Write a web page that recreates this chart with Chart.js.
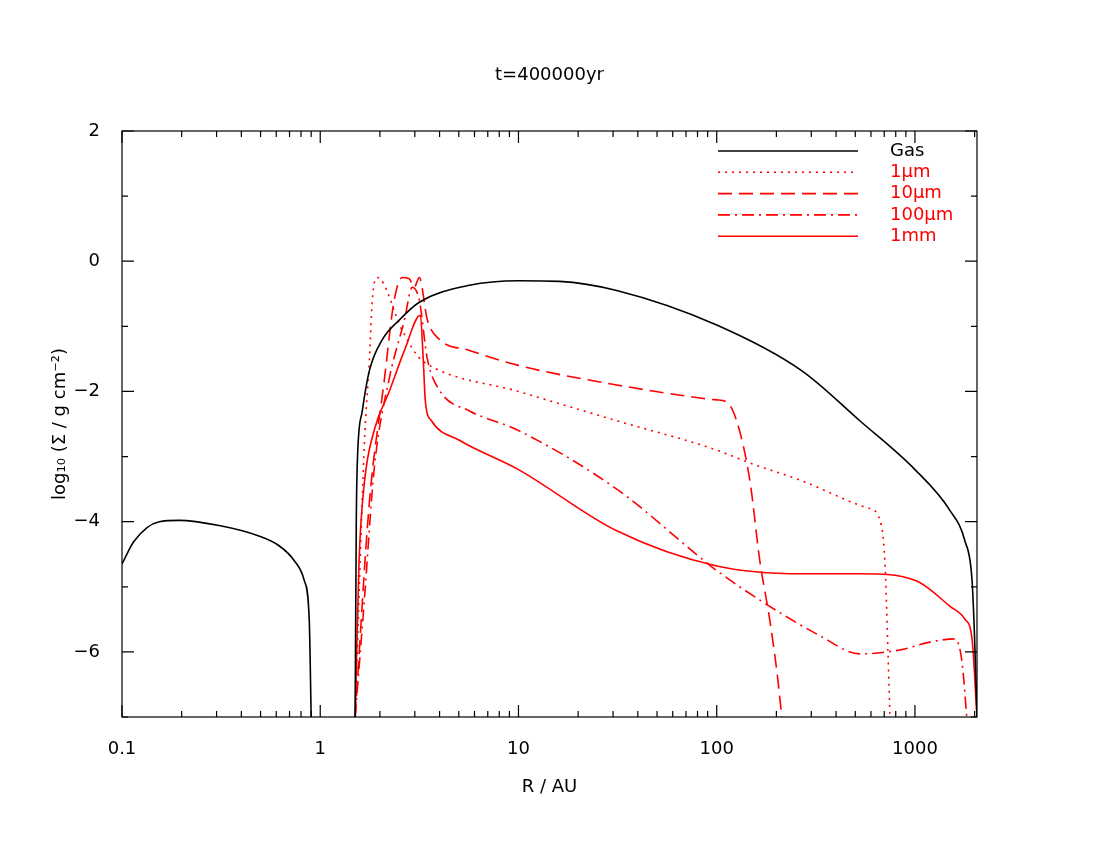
<!DOCTYPE html>
<html><head><meta charset="utf-8">
<script src="https://cdn.jsdelivr.net/npm/chart.js@4"></script>
<style>html,body{margin:0;padding:0;background:#fff}#c{display:block}</style>
</head><body>
<canvas id="c" width="1100" height="850"></canvas>
<script>
const titleText = "t=400000yr";
const xTickLabels = [0.1, 1, 10, 100, 1000];
const yTickLabels = [2, 0, -2, -4, -6];
const seriesNames = ["Gas", "1\u03bcm", "10\u03bcm", "100\u03bcm", "1mm"];

const gasInnerR = [0.1, 0.115, 0.154, 0.194, 0.309, 0.49, 0.62, 0.74, 0.83, 0.88, 0.9];
const gasInnerS = [-4.65, -4.3, -4.0, -3.98, -4.06, -4.22, -4.37, -4.6, -4.9, -5.5, -7];
const gasR = [1.5, 1.52, 1.54, 1.63, 1.77, 2.06, 2.51, 3.16, 5.66, 10, 16.1, 31.3, 100, 268, 527, 1000, 1503, 1789, 1941, 2000, 2056];
const gasS = [-7, -4, -3.05, -2.3, -1.68, -1.2, -0.9, -0.63, -0.37, -0.3, -0.31, -0.45, -0.98, -1.68, -2.45, -3.2, -3.83, -4.3, -4.9, -5.8, -7];
const um1R = [1.5, 1.67, 1.77, 1.83, 1.94, 2.59, 3.09, 3.55, 10, 31.3, 100, 147, 268, 527, 593, 666, 705, 731, 748];
const um1S = [-7, -2.8, -1.52, -0.6, -0.25, -1.06, -1.45, -1.6, -2.0, -2.45, -2.9, -3.1, -3.37, -3.75, -3.8, -3.98, -4.6, -6.0, -7];
const um10R = [1.5, 1.77, 2.10, 2.36, 2.59, 2.81, 2.98, 3.16, 3.47, 3.99, 5.66, 10, 31.3, 82, 100, 112, 126, 147, 165, 185, 203, 213];
const um10S = [-7, -3.7, -1.85, -0.6, -0.25, -0.27, -0.4, -0.25, -0.9, -1.2, -1.37, -1.6, -1.9, -2.1, -2.13, -2.16, -2.45, -3.37, -4.6, -5.5, -6.4, -7];
const um100R = [1.5, 1.67, 1.87, 2.23, 2.66, 2.91, 3.16, 3.47, 3.99, 5.66, 10, 31.3, 100, 185, 331, 527, 840, 1191, 1592, 1727, 1826];
const um100S = [-7, -5.2, -3.2, -1.8, -0.9, -0.4, -0.6, -1.5, -1.98, -2.3, -2.6, -3.5, -4.75, -5.3, -5.75, -6.03, -5.97, -5.85, -5.8, -6.15, -7];
const mm1R = [1.5, 1.57, 1.67, 1.87, 2.23, 2.66, 3.2, 3.31, 3.39, 3.64, 5.03, 10, 31.3, 100, 268, 527, 1000, 1503, 1789, 1941, 2056];
const mm1S = [-7, -4.6, -3.4, -2.6, -2.0, -1.37, -0.83, -1.52, -2.15, -2.45, -2.75, -3.2, -4.14, -4.68, -4.8, -4.8, -4.9, -5.3, -5.5, -5.8, -7];

const pts = (r, s) => r.map((v, i) => ({x: v, y: s[i]}));
const RED = "#ff0000";
const styles = [
  {color: "#000", dash: []},
  {color: RED, dash: [2, 5]},
  {color: RED, dash: [14, 7]},
  {color: RED, dash: [12, 5, 2, 5]},
  {color: RED, dash: []}
];
const mk = (data, st) => ({data, borderColor: st.color, borderDash: st.dash, borderWidth: 1.6,
  pointRadius: 0, fill: false, cubicInterpolationMode: 'monotone'});
const datasets = [
  mk(pts(gasInnerR, gasInnerS), styles[0]),
  mk(pts(gasR, gasS), styles[0]),
  mk(pts(um1R, um1S), styles[1]),
  mk(pts(um10R, um10S), styles[2]),
  mk(pts(um100R, um100S), styles[3]),
  mk(pts(mm1R, mm1S), styles[4])
];
const FONT = '"DejaVu Sans", sans-serif';

const deco = {
  id: 'deco',
  afterDraw(chart) {
    const {ctx, chartArea: a, scales: {x, y}} = chart;
    ctx.save();
    ctx.strokeStyle = '#000'; ctx.lineWidth = 1.2; ctx.setLineDash([]);
    ctx.strokeRect(a.left, a.top, a.right - a.left, a.bottom - a.top);
    ctx.beginPath();
    for (let d = -1; d <= 3; d++) {
      for (let m = 1; m <= 9; m++) {
        const v = m * Math.pow(10, d);
        if (v < x.min || v > x.max) continue;
        const px = x.getPixelForValue(v), L = m === 1 ? 12 : 6;
        ctx.moveTo(px, a.bottom); ctx.lineTo(px, a.bottom - L);
        ctx.moveTo(px, a.top); ctx.lineTo(px, a.top + L);
      }
    }
    for (let v = -7; v <= 2; v++) {
      const py = y.getPixelForValue(v), L = v % 2 === 0 ? 12 : 6;
      ctx.moveTo(a.left, py); ctx.lineTo(a.left + L, py);
      ctx.moveTo(a.right, py); ctx.lineTo(a.right - L, py);
    }
    ctx.stroke();
    ctx.fillStyle = '#000';
    ctx.font = '18px ' + FONT;
    ctx.textAlign = 'center'; ctx.textBaseline = 'middle';
    ctx.fillText(titleText, (a.left + a.right) / 2, 75);
    ctx.fillText('R / AU', (a.left + a.right) / 2, 787);
    ctx.save();
    ctx.translate(60, (a.top + a.bottom) / 2);
    ctx.rotate(-Math.PI / 2);
    ctx.fillText('log\u2081\u2080 (\u03a3 / g cm\u207b\u00b2)', 0, 0);
    ctx.restore();
    // legend
    ctx.textAlign = 'left';
    seriesNames.forEach((n, i) => {
      const ly = 151 + i * 21.3;
      ctx.beginPath();
      ctx.strokeStyle = styles[i].color; ctx.lineWidth = 1.6; ctx.setLineDash(styles[i].dash);
      ctx.moveTo(718, ly); ctx.lineTo(858, ly); ctx.stroke();
      ctx.setLineDash([]);
      ctx.fillStyle = styles[i].color;
      ctx.fillText(n, 890, ly);
    });
    ctx.restore();
  }
};

new Chart(document.getElementById('c'), {
  type: 'line',
  data: {datasets},
  options: {
    responsive: false, animation: false,
    layout: {padding: {left: 0, top: 131, right: 123, bottom: 0}},
    plugins: {legend: {display: false}, tooltip: {enabled: false}},
    scales: {
      x: {
        type: 'logarithmic', min: 0.1, max: 2056,
        afterBuildTicks: s => { s.ticks = xTickLabels.map(v => ({value: v})); },
        afterFit: s => { s.height = 133; },
        grid: {display: false}, border: {display: false},
        ticks: {color: '#000', font: {size: 18, family: FONT}, padding: 14, maxRotation: 0,
          callback: v => String(v)}
      },
      y: {
        type: 'linear', min: -7, max: 2,
        afterBuildTicks: s => { s.ticks = yTickLabels.map(v => ({value: v})); },
        afterFit: s => { s.width = 122; },
        grid: {display: false}, border: {display: false},
        ticks: {color: '#000', font: {size: 18, family: FONT}, padding: 14,
          callback: v => v < 0 ? '\u2212' + Math.abs(v) : String(v)}
      }
    }
  },
  plugins: [deco]
});
</script>
</body></html>
